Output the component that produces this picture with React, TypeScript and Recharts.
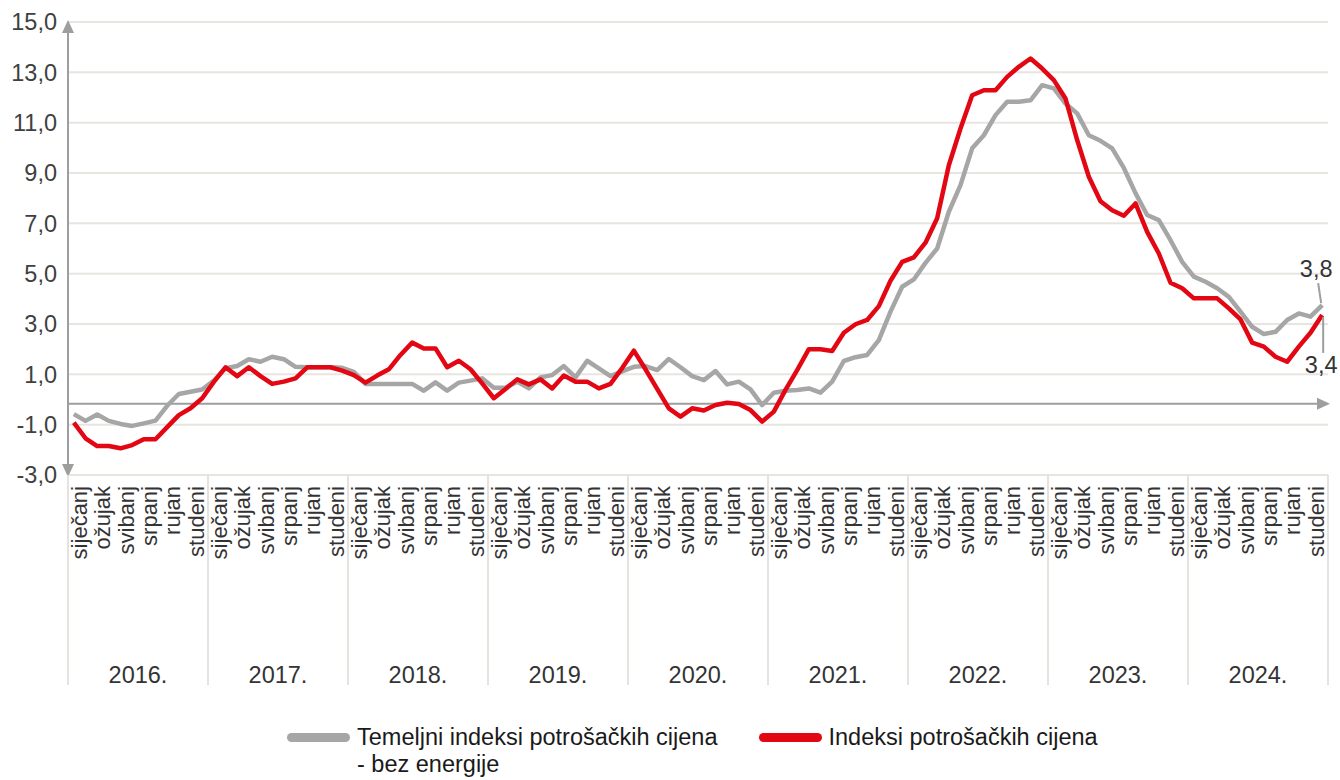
import React from "react";
import {
  CartesianGrid,
  LabelList,
  Line,
  LineChart,
  ReferenceLine,
  XAxis,
  YAxis,
} from "recharts";

const years = ["2016.", "2017.", "2018.", "2019.", "2020.", "2021.", "2022.", "2023.", "2024."];

const monthNames = [
  "siječanj", "veljača", "ožujak", "travanj", "svibanj", "lipanj",
  "srpanj", "kolovoz", "rujan", "listopad", "studeni", "prosinac",
];

// Temeljni indeksi potrošačkih cijena - bez energije (godišnja stopa, %)
const coreRate = [
  -0.58, -0.85, -0.6, -0.85, -0.97, -1.05, -0.95, -0.84, -0.25, 0.22, 0.31, 0.4,
  0.75, 1.24, 1.33, 1.6, 1.5, 1.7, 1.6, 1.3, 1.28, 1.28, 1.28, 1.26,
  1.1, 0.62, 0.62, 0.62, 0.62, 0.62, 0.35, 0.68, 0.35, 0.67, 0.75, 0.84,
  0.47, 0.47, 0.71, 0.44, 0.88, 0.97, 1.33, 0.88, 1.54, 1.24, 0.93, 1.12,
  1.3, 1.33, 1.17, 1.61, 1.28, 0.93, 0.77, 1.13, 0.6, 0.71, 0.4, -0.22,
  0.27, 0.35, 0.38, 0.44, 0.27, 0.71, 1.53, 1.68, 1.77, 2.36, 3.49, 4.48,
  4.77, 5.43, 6.0, 7.46, 8.52, 9.98, 10.5, 11.3, 11.83, 11.83, 11.89, 12.49,
  12.36, 11.76, 11.37, 10.5, 10.28, 9.98, 9.2, 8.2, 7.33, 7.13, 6.33, 5.47,
  4.88, 4.68, 4.42, 4.08, 3.49, 2.89, 2.6, 2.69, 3.16, 3.42, 3.29, 3.75,
];

// Indeksi potrošačkih cijena (godišnja stopa, %)
const cpiRate = [
  -0.92, -1.54, -1.85, -1.85, -1.94, -1.81, -1.58, -1.58, -1.1, -0.62, -0.35, 0.05,
  0.7, 1.28, 0.93, 1.28, 0.93, 0.62, 0.71, 0.84, 1.28, 1.28, 1.28, 1.15,
  0.97, 0.67, 0.95, 1.2, 1.77, 2.26, 2.03, 2.03, 1.28, 1.54, 1.2, 0.64,
  0.05, 0.42, 0.8, 0.6, 0.8, 0.44, 0.95, 0.71, 0.71, 0.44, 0.62, 1.25,
  1.94, 1.2, 0.42, -0.35, -0.68, -0.35, -0.44, -0.22, -0.13, -0.18, -0.42, -0.88,
  -0.48, 0.38, 1.17, 2.0, 2.0, 1.93, 2.65, 2.99, 3.16, 3.71, 4.72, 5.47,
  5.65, 6.23, 7.2, 9.31, 10.77, 12.09, 12.29, 12.29, 12.82, 13.22, 13.55, 13.15,
  12.69, 11.96, 10.31, 8.85, 7.88, 7.52, 7.3, 7.79, 6.66, 5.8, 4.64, 4.42,
  4.02, 4.02, 4.02, 3.62, 3.18, 2.26, 2.1, 1.7, 1.5, 2.1, 2.65, 3.36,
];

const yTicks = [-3, -1, 1, 3, 5, 7, 9, 11, 13, 15];

const coreName = "Temeljni indeksi potrošačkih cijena\n- bez energije";
const cpiName = "Indeksi potrošačkih cijena";

const GRAY = "#a6a6a6";
const RED = "#e30613";
const TEXT = "#333333";
const FONT = "'Liberation Sans', Arial, Helvetica, sans-serif";
const FS = 23.5;

const data = coreRate.map((core, i) => ({
  idx: i,
  year: years[Math.floor(i / 12)],
  month: monthNames[i % 12],
  core,
  cpi: cpiRate[i],
}));

const lastIdx = data.length - 1;

// month labels every other month, year separators and year labels on one axis
const xTicks: number[] = [];
for (let i = 0; i < data.length; i += 2) xTicks.push(i);
for (let k = 0; k <= years.length * 2; k++) xTicks.push(k * 6 - 0.5);
xTicks.sort((a, b) => a - b);

const fmt = (v: number) => v.toFixed(1).replace(".", ",");

function AxisTick(props: any) {
  const { x, y, payload } = props;
  const v = payload.value as number;
  if (Number.isInteger(v)) {
    const ax = x + 13;
    const ay = y + 11;
    return (
      <text
        x={ax}
        y={ay}
        transform={`rotate(-90 ${ax} ${ay})`}
        textAnchor="end"
        fontSize={22}
        fill={TEXT}
        fontFamily={FONT}
      >
        {monthNames[v % 12]}
      </text>
    );
  }
  const k = Math.round((v + 0.5) / 6);
  if (k % 2 === 0) {
    return <line x1={x} y1={y} x2={x} y2={y + 210} stroke="#e6e2de" strokeWidth={2} />;
  }
  return (
    <text x={x} y={y + 208} textAnchor="middle" fontSize={FS} fill={TEXT} fontFamily={FONT}>
      {years[(k - 1) / 2]}
    </text>
  );
}

function HorizontalArrow(props: any) {
  const { x1, x2, y1 } = props;
  const left = Math.min(x1, x2);
  const right = Math.max(x1, x2);
  return (
    <g>
      <line x1={left} y1={y1} x2={right - 8} y2={y1} stroke="#9e9e9e" strokeWidth={2} />
      <polygon
        points={`${right + 2},${y1} ${right - 11},${y1 - 6} ${right - 11},${y1 + 6}`}
        fill="#9e9e9e"
      />
    </g>
  );
}

function VerticalArrow(props: any) {
  const { x1, y1, y2 } = props;
  const top = Math.min(y1, y2);
  const bottom = Math.max(y1, y2);
  return (
    <g>
      <line x1={x1} y1={top + 8} x2={x1} y2={bottom - 8} stroke="#9e9e9e" strokeWidth={2} />
      <polygon points={`${x1},${top - 2} ${x1 - 6},${top + 11} ${x1 + 6},${top + 11}`} fill="#9e9e9e" />
      <polygon
        points={`${x1},${bottom + 2} ${x1 - 6},${bottom - 11} ${x1 + 6},${bottom - 11}`}
        fill="#9e9e9e"
      />
    </g>
  );
}

function CoreEndLabel(props: any) {
  const { x, y, index, value } = props;
  if (index !== lastIdx) return null;
  return (
    <g>
      <line x1={x - 1} y1={y - 2} x2={x - 4} y2={y - 22} stroke="#9e9e9e" strokeWidth={2} />
      <text x={x - 6} y={y - 28} textAnchor="middle" fontSize={FS} fill={TEXT} fontFamily={FONT}>
        {fmt(value)}
      </text>
    </g>
  );
}

function CpiEndLabel(props: any) {
  const { x, y, index, value } = props;
  if (index !== lastIdx) return null;
  return (
    <g>
      <line x1={x + 1} y1={y + 2} x2={x + 1} y2={y + 38} stroke="#9e9e9e" strokeWidth={2} />
      <text x={x - 1} y={y + 58} textAnchor="middle" fontSize={FS} fill={TEXT} fontFamily={FONT}>
        {fmt(value)}
      </text>
    </g>
  );
}

function LegendItem({ color, label }: { color: string; label: string }) {
  return (
    <div style={{ display: "flex", alignItems: "flex-start" }}>
      <div
        style={{
          width: 63,
          height: 9,
          borderRadius: 5,
          background: color,
          marginTop: 9,
          marginRight: 7,
        }}
      />
      <div style={{ whiteSpace: "pre-line", fontSize: FS, lineHeight: "27px", color: "#1a1a1a" }}>
        {label}
      </div>
    </div>
  );
}

export default function App() {
  return (
    <div
      style={{
        position: "absolute",
        left: 0,
        top: 0,
        width: 1340,
        height: 780,
        background: "#fff",
        fontFamily: FONT,
      }}
    >
      <LineChart
        width={1340}
        height={700}
        data={data}
        margin={{ top: 22, right: 12, left: 0, bottom: 14 }}
      >
        <CartesianGrid vertical={false} stroke="#e8e4e0" strokeWidth={2} />
        <XAxis
          dataKey="idx"
          type="number"
          domain={[-0.5, lastIdx + 0.5]}
          ticks={xTicks}
          interval={0}
          height={211}
          axisLine={false}
          tickLine={false}
          tickSize={0}
          tickMargin={0}
          tick={<AxisTick />}
        />
        <YAxis
          domain={[-3, 15]}
          ticks={yTicks}
          tickFormatter={fmt}
          width={68}
          axisLine={false}
          tickLine={false}
          tickSize={0}
          tickMargin={11}
          tick={{ fontSize: FS, fill: "#404040", fontFamily: FONT }}
        />
        <ReferenceLine y={-0.17} shape={HorizontalArrow} />
        <ReferenceLine x={-0.5} shape={VerticalArrow} />
        <Line
          type="linear"
          dataKey="core"
          name={coreName}
          stroke={GRAY}
          strokeWidth={4.5}
          strokeLinejoin="round"
          dot={false}
          isAnimationActive={false}
        >
          <LabelList dataKey="core" content={<CoreEndLabel />} />
        </Line>
        <Line
          type="linear"
          dataKey="cpi"
          name={cpiName}
          stroke={RED}
          strokeWidth={4.5}
          strokeLinejoin="round"
          dot={false}
          isAnimationActive={false}
        >
          <LabelList dataKey="cpi" content={<CpiEndLabel />} />
        </Line>
      </LineChart>
      <div style={{ position: "absolute", top: 724, left: 287, display: "flex", gap: 41 }}>
        <LegendItem color={GRAY} label={coreName} />
        <LegendItem color={RED} label={cpiName} />
      </div>
    </div>
  );
}
